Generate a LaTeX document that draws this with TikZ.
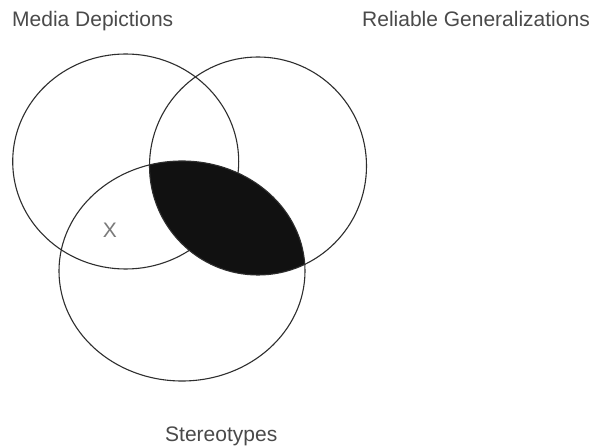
\documentclass[tikz,border=0pt]{standalone}
\usepackage{fontspec}
\setmainfont{Liberation Sans}
\definecolor{labelgray}{HTML}{4A4A4A}
\definecolor{xgray}{HTML}{7A7A7A}
\definecolor{linegray}{HTML}{2E2E2E}
\definecolor{lensblack}{HTML}{111111}
\begin{document}
\begin{tikzpicture}[x=1pt,y=-1pt,
  lbl/.style={inner sep=0pt, anchor=base west, text=labelgray, font=\fontsize{21}{24}\selectfont},
  ring/.style={draw=linegray, line width=1.1pt}]
\useasboundingbox (0,0) rectangle (590,446);
\fill[white] (0,0) rectangle (590,446);
% Media Depictions circle (hidden under the shaded lens)
\draw[ring] (125.7,161.5) ellipse [x radius=113, y radius=107.5];
% shaded region: Reliable Generalizations and Stereotypes overlap
\begin{scope}
  \clip (258,166) ellipse [x radius=108.5, y radius=109];
  \fill[fill=lensblack] (182,271) ellipse [x radius=123, y radius=110];
\end{scope}
% other circles
\draw[ring] (258,166) ellipse [x radius=108.5, y radius=109];
\draw[ring] (182,271) ellipse [x radius=123, y radius=110];
% labels
\node[lbl] (media) at (12,26.5) {Media Depictions};
\node[lbl] (reliable) at (362,26.7) {Reliable Generalizations};
\node[lbl] (stereo) at (165,441.5) {Stereotypes};
\node[inner sep=0pt, text=xgray, font=\fontsize{21}{24}\selectfont] (x) at (110,230.5) {X};
\end{tikzpicture}
\end{document}
